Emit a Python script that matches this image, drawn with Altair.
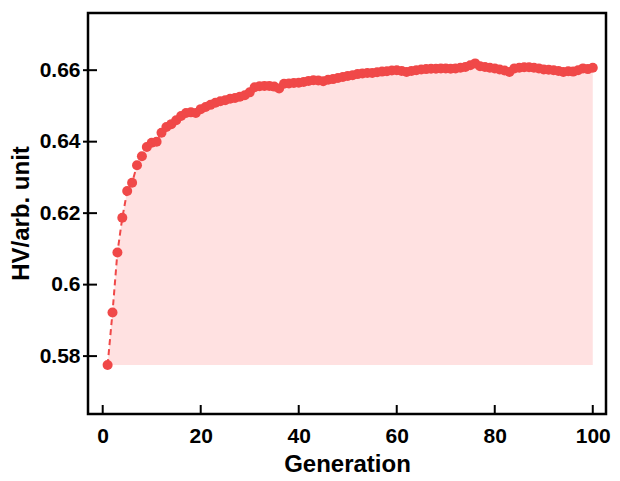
import altair as alt
import pandas as pd

generation = list(range(1, 101))
hv = [
    0.5775, 0.5922, 0.6090, 0.6187, 0.6262, 0.6285, 0.6334, 0.6359, 0.6385, 0.6397,
    0.6400, 0.6425, 0.6441, 0.6449, 0.6460, 0.6472, 0.6480, 0.6482, 0.6480, 0.6491,
    0.6497, 0.6503, 0.6509, 0.6513, 0.6516, 0.6520, 0.6522, 0.6526, 0.6530, 0.6538,
    0.6552, 0.6555, 0.6556, 0.6556, 0.6554, 0.6549, 0.6562, 0.6563, 0.6564, 0.6565,
    0.6567, 0.6570, 0.6572, 0.6571, 0.6569, 0.6573, 0.6575, 0.6578, 0.6581, 0.6584,
    0.6586, 0.6589, 0.6591, 0.6592, 0.6592, 0.6594, 0.6596, 0.6597, 0.6599, 0.6600,
    0.6598, 0.6595, 0.6598, 0.6600, 0.6602, 0.6603, 0.6604, 0.6604, 0.6605, 0.6605,
    0.6604, 0.6605, 0.6607, 0.6609, 0.6614, 0.6619, 0.6611, 0.6609, 0.6607, 0.6605,
    0.6602, 0.6599, 0.6595, 0.6605, 0.6607, 0.6608, 0.6608, 0.6607, 0.6605, 0.6602,
    0.6601, 0.6600, 0.6598, 0.6595, 0.6597, 0.6596, 0.6600, 0.6605, 0.6603, 0.6607,
]
x_ticks = [0, 20, 40, 60, 80, 100]
y_ticks = [0.58, 0.60, 0.62, 0.64, 0.66]

X_DOMAIN = [-3.0, 102.7]
Y_DOMAIN = [0.5638, 0.6760]

RED = "#F04848"
PINK = "#FFE1E1"

df = pd.DataFrame({"gen": generation, "hv": hv})
df["base"] = min(hv)
xt = pd.DataFrame({"gen": x_ticks})
yt = pd.DataFrame({"hv": y_ticks})

x_axis = alt.Axis(values=x_ticks, title="Generation", ticks=False, domain=False, grid=False,
                  labelPadding=11, format="d", titleX=259, titleY=57,
                  titleBaseline="alphabetic")
y_axis = alt.Axis(values=y_ticks, title="HV/arb. unit", ticks=False, domain=False, grid=False,
                  labelPadding=8, format="~g", titleX=-60, titleY=200, titleAngle=270,
                  titleBaseline="alphabetic", titleAlign="center")


def X():
    return alt.X("gen:Q", scale=alt.Scale(domain=X_DOMAIN, nice=False, zero=False), axis=x_axis)


def Y():
    return alt.Y("hv:Q", scale=alt.Scale(domain=Y_DOMAIN, nice=False, zero=False), axis=y_axis)


area = alt.Chart(df).mark_area(color=PINK, opacity=1).encode(x=X(), y=Y(), y2="base:Q")
line = alt.Chart(df).mark_line(color=RED, strokeDash=[6, 4], strokeWidth=2).encode(x=X(), y=Y())
pts = alt.Chart(df).mark_circle(color=RED, size=100, opacity=1).encode(x=X(), y=Y())
xtick = alt.Chart(xt).mark_rule(color="black", strokeWidth=2).encode(
    x=X(), y=alt.value(401), y2=alt.value(392))
ytick = alt.Chart(yt).mark_rule(color="black", strokeWidth=2).encode(
    y=Y(), x=alt.value(-5), x2=alt.value(9))

chart = alt.layer(area, line, pts, xtick, ytick).properties(
    width=518,
    height=401,
    autosize=alt.AutoSizeParams(type="none"),
    padding={"left": 80, "top": 5, "right": 6, "bottom": 66},
).configure(font="Liberation Sans").configure_view(
    stroke="black", strokeWidth=2.5
).configure_axis(
    labelFont="Liberation Sans", labelFontSize=21, labelFontWeight="bold", labelColor="black",
    titleFont="Liberation Sans", titleFontSize=24, titleFontWeight="bold", titleColor="black",
)

chart.save("out.html", embed_options={"renderer": "svg", "actions": False})
